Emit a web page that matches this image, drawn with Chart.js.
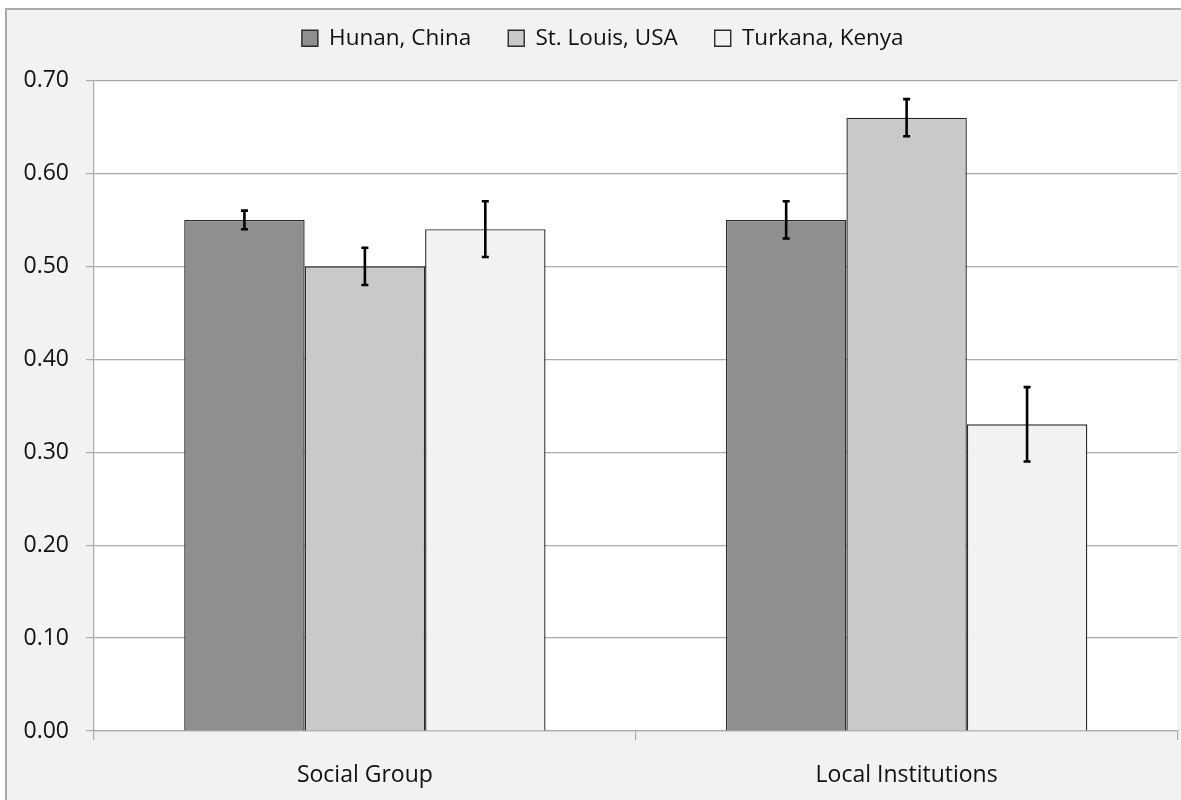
<!DOCTYPE html>
<html>
<head>
<meta charset="utf-8">
<script src="https://cdn.jsdelivr.net/npm/chart.js@4.4.1/dist/chart.umd.min.js"></script>
<style>
  html, body { margin: 0; padding: 0; background: #fff; overflow: hidden; }
  /* cadre gris clair de la figure (coupé à droite et en bas) */
  #frame { position: absolute; left: 5px; top: 8px; width: 1300px; height: 900px;
           border: 2px solid #ababab; background: #f2f2f2; }
  #chart { position: absolute; left: 0; top: 0; }
</style>
</head>
<body>
<div id="frame"></div>
<canvas id="chart" width="1181" height="800"></canvas>
<script>
// --- données ---
const categories = ['Social Group', 'Local Institutions'];
const seriesNames = ['Hunan, China', 'St. Louis, USA', 'Turkana, Kenya'];
const hunanValues = [0.55, 0.55];
const stLouisValues = [0.50, 0.66];
const turkanaValues = [0.54, 0.33];
const hunanErrors = [0.01, 0.02];
const stLouisErrors = [0.02, 0.02];
const turkanaErrors = [0.03, 0.04];
const yTickLabels = ['0.00', '0.10', '0.20', '0.30', '0.40', '0.50', '0.60', '0.70'];

const seriesColors = ['#8f8f8f', '#c9c9c9', '#f2f2f2'];
const fontFamily = '"Open Sans", "DejaVu Sans", sans-serif';
const gridColor = '#ababab';

// fond blanc de la zone de tracé
const plotBackground = {
  id: 'plotBackground',
  beforeDraw(chart) {
    const { ctx, chartArea: a } = chart;
    ctx.save();
    ctx.fillStyle = '#fff';
    ctx.fillRect(a.left, a.top, a.right - a.left, a.bottom - a.top);
    ctx.restore();
  }
};

// légende : espace en plus dessous, et un peu décalée vers la droite
const legendSpacing = {
  id: 'legendSpacing',
  beforeInit(chart) {
    const fit = chart.legend.fit;
    chart.legend.fit = function () {
      fit.bind(chart.legend)();
      this.height += 21;
    };
  },
  afterLayout(chart) {
    chart.legend.left += 14;
    chart.legend.right += 14;
  }
};

// barres d'erreur (± erreur autour de la valeur)
const errorBars = {
  id: 'errorBars',
  afterDatasetsDraw(chart) {
    const { ctx } = chart;
    const y = chart.scales.y;
    ctx.save();
    ctx.strokeStyle = '#000';
    ctx.lineWidth = 2.6;
    chart.data.datasets.forEach((ds, di) => {
      chart.getDatasetMeta(di).data.forEach((bar, i) => {
        const v = ds.data[i], e = ds.errors[i];
        const top = y.getPixelForValue(v + e);
        const bot = y.getPixelForValue(v - e);
        const x = bar.x, cap = 3.5;
        ctx.beginPath();
        ctx.moveTo(x, top); ctx.lineTo(x, bot);
        ctx.moveTo(x - cap, top); ctx.lineTo(x + cap, top);
        ctx.moveTo(x - cap, bot); ctx.lineTo(x + cap, bot);
        ctx.stroke();
      });
    });
    ctx.restore();
  }
};

const values = [hunanValues, stLouisValues, turkanaValues];
const errors = [hunanErrors, stLouisErrors, turkanaErrors];

new Chart(document.getElementById('chart').getContext('2d'), {
  type: 'bar',
  data: {
    labels: categories,
    datasets: seriesNames.map((name, i) => ({
      label: name,
      data: values[i],
      errors: errors[i],
      backgroundColor: seriesColors[i],
      borderColor: '#2b2b2b',
      borderWidth: 1.4,
      barPercentage: 1,
      categoryPercentage: 0.667
    }))
  },
  plugins: [plotBackground, legendSpacing, errorBars],
  options: {
    responsive: false,
    animation: false,
    layout: { padding: { top: -10, left: 0, right: 3.5, bottom: 0 } },
    plugins: {
      tooltip: { enabled: false },
      legend: {
        display: true, position: 'top', align: 'center',
        labels: {
          color: '#111',
          font: { family: fontFamily, size: 22.5, weight: '500' },
          boxWidth: 16, boxHeight: 16, padding: 37
        }
      }
    },
    scales: {
      x: {
        grid: { offset: true, drawOnChartArea: false, drawTicks: true, tickLength: 9, color: gridColor, lineWidth: 1.2 },
        border: { color: gridColor, width: 1.2 },
        ticks: { padding: 22, color: '#111', font: { family: fontFamily, size: 23, weight: '500' } },
        afterFit: (s) => { s.height = 69; }
      },
      y: {
        min: 0, max: 0.7,
        grid: { color: gridColor, lineWidth: 1.2, tickLength: 8 },
        border: { color: gridColor, width: 1.2 },
        ticks: {
          stepSize: 0.1, padding: 17, color: '#111',
          font: { family: fontFamily, size: 23, weight: '500' },
          callback: (v, i) => yTickLabels[i]
        },
        afterFit: (s) => { s.width = 94; }
      }
    }
  }
});
</script>
</body>
</html>
